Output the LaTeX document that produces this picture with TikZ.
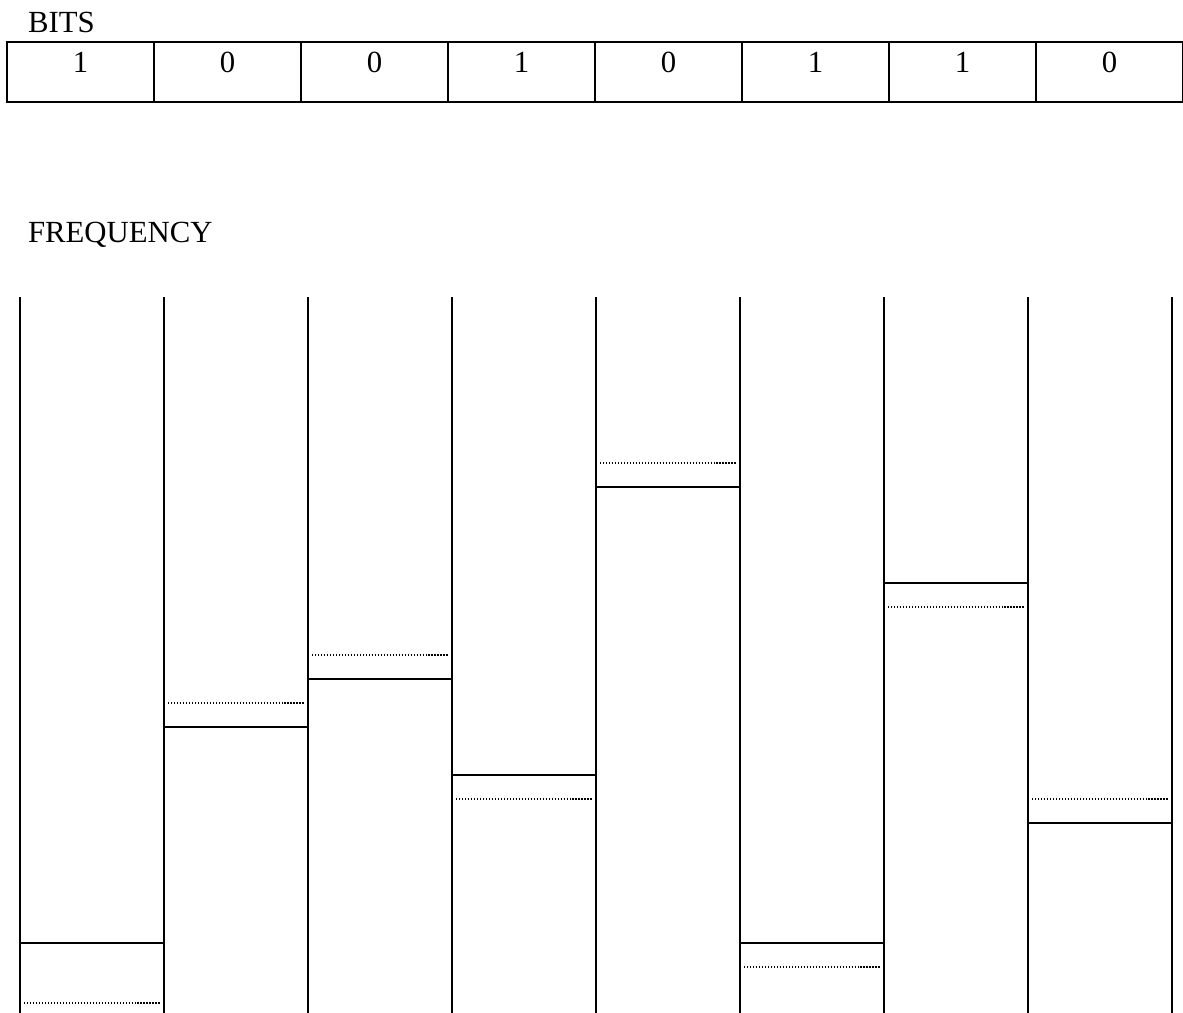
\documentclass[tikz,border=0pt]{standalone}
\usepackage{fontspec}
\setmainfont{Liberation Serif}
\usetikzlibrary{positioning}

\begin{document}
\begin{tikzpicture}[x=0.02cm, y=-0.02cm, line width=1.4pt,
    lbl/.style={font=\fontsize{17.5}{20}\selectfont},
    bitcell/.style={draw, rectangle, minimum width=2.94cm, minimum height=1.2cm, inner sep=0pt, outer sep=0pt},
    level/.style={line width=1.4pt},
    prevlevel/.style={line width=0.8pt, dash pattern=on 0.8pt off 0.9pt}]
    \useasboundingbox (0,0) rectangle (1183,1013);

    % Bits row
    \node[lbl, anchor=base west] (bitslabel) at (21,33) {BITS};
    \foreach \b [count=\i from 0] in {1,0,0,1,0,1,1,0} {
        \node[bitcell] (cell\i) at (80.5+147*\i,72) {};
        \node[lbl, anchor=base] (bit\i) at ([yshift=-0.62cm]cell\i.north) {\b};
    }

    % Frequency steps
    \node[lbl, anchor=base west] (freqlabel) at (21,243) {FREQUENCY};
    \foreach \k in {0,...,8}
        \draw (20+144*\k,297) -- (20+144*\k,1013);
    \foreach \s/\d [count=\i from 0] in {943/1003, 727/703, 679/655, 775/799, 487/463, 943/967, 583/607, 823/799} {
        \draw[level] (20+144*\i,\s) -- (164+144*\i,\s);
        \draw[prevlevel] (24+144*\i,\d) -- (160+144*\i,\d);
    }
\end{tikzpicture}
\end{document}
